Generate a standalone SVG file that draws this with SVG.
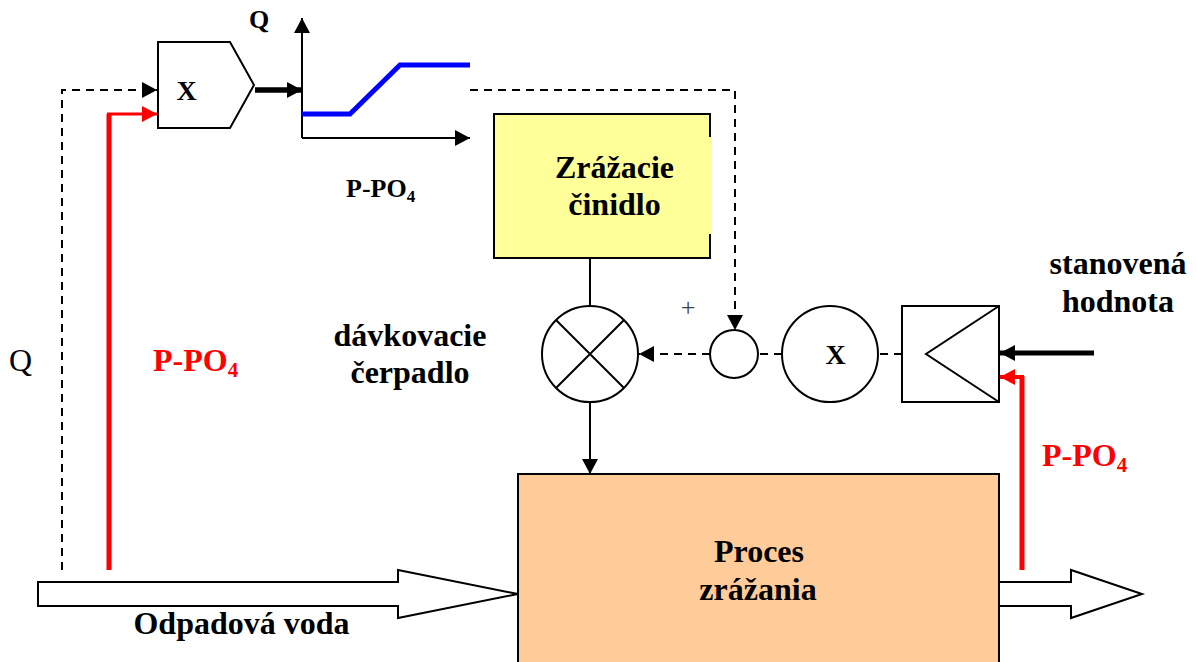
<svg xmlns="http://www.w3.org/2000/svg" width="1196" height="662" viewBox="0 0 1196 662">
<style>
text{font-family:"Liberation Serif",serif;font-weight:bold;fill:#000}
.t{font-size:32px}
.r{fill:#f00}
.s{fill:none;stroke:#000;stroke-width:2}
.d{fill:none;stroke:#000;stroke-width:2;stroke-dasharray:8 6}
</style>
<defs>
<marker id="a" markerUnits="userSpaceOnUse" markerWidth="15" markerHeight="16" refX="15" refY="8" orient="auto"><path d="M0 0L15 8L0 16Z" fill="#000"/></marker>
<marker id="b" markerUnits="userSpaceOnUse" markerWidth="15" markerHeight="16" refX="15" refY="8" orient="auto"><path d="M0 0L15 8L0 16Z" fill="#f00"/></marker>
</defs>
<rect width="1196" height="662" fill="#fff"/>
<g id="outflow"><path d="M999 582H1071V570L1142 594L1071 618V606H999" fill="#fff" stroke="#000" stroke-width="2"/></g>
<g id="connectors">
<path class="d" d="M62 570V90H157" marker-end="url(#a)"/>
<path d="M109 570V114" fill="none" stroke="#f00" stroke-width="5"/>
<path d="M107 114H157" fill="none" stroke="#f00" stroke-width="3" marker-end="url(#b)"/>
<path d="M255 90H302" fill="none" stroke="#000" stroke-width="5.5" marker-end="url(#a)"/>
<path class="s" d="M302 138V18" marker-end="url(#a)"/>
<path class="s" d="M302 138H470" marker-end="url(#a)"/>
<path d="M302 114H350L400 65H470" fill="none" stroke="#00f" stroke-width="5"/>
<path class="d" d="M470 90H735V330" marker-end="url(#a)"/>
<path class="s" d="M590 258V306"/>
<path class="s" d="M590 402V474" marker-end="url(#a)"/>
<path class="d" d="M710 354H639" marker-end="url(#a)"/>
<path class="d" d="M782 354H758"/>
<path class="d" d="M902 354H878"/>
<path d="M1094 353H1000" fill="none" stroke="#000" stroke-width="5" marker-end="url(#a)"/>
<path d="M1022 570V376" fill="none" stroke="#f00" stroke-width="5"/>
<path d="M1024 377H1000" fill="none" stroke="#f00" stroke-width="4" marker-end="url(#b)"/>
</g>
<g id="multiplier-top"><path d="M158 42H230L254 85L230 128H158Z" fill="#fff" stroke="#000" stroke-width="2"/><text x="186.500" y="100" font-size="28" text-anchor="middle">X</text></g>
<g id="graph-labels"><text x="259" y="28" font-size="26" text-anchor="middle">Q</text><text x="346" y="197" font-size="26">P-PO<tspan font-size="17" dy="5">4</tspan></text></g>
<g id="zrazacie"><rect x="494" y="114" width="216" height="144" fill="#ffff99" stroke="#000" stroke-width="2"/><rect x="709" y="137" width="3" height="97" fill="#ffff99"/><text class="t" x="614.500" y="178" text-anchor="middle">Zrážacie</text><text class="t" x="614.500" y="215" text-anchor="middle">činidlo</text></g>
<g id="pump"><circle cx="590" cy="354" r="48" fill="#fff" stroke="#000" stroke-width="2"/><path class="s" d="M556 320L624 388M624 320L556 388"/></g>
<g id="pump-label"><text class="t" x="410" y="346" text-anchor="middle">dávkovacie</text><text class="t" x="410" y="383" text-anchor="middle">čerpadlo</text></g>
<g id="sum"><circle cx="734" cy="354" r="24" fill="#fff" stroke="#000" stroke-width="2"/><text x="688" y="316" font-size="26" text-anchor="middle" style="font-weight:normal;fill:#444">+</text></g>
<g id="multiplier"><circle cx="830" cy="354" r="48" fill="#fff" stroke="#000" stroke-width="2"/><text x="835.500" y="364" font-size="28" text-anchor="middle">X</text></g>
<g id="controller"><rect x="902" y="306" width="97" height="96" fill="#fff" stroke="#000" stroke-width="2"/><path class="s" d="M999 306L926 354L999 402"/></g>
<g id="setpoint"><text class="t" x="1118" y="274" text-anchor="middle">stanovená</text><text class="t" x="1118" y="312" text-anchor="middle">hodnota</text></g>
<g id="q-label"><text x="20.500" y="371" font-size="32" text-anchor="middle" style="font-weight:normal">Q</text></g>
<g id="ppo4-left"><text class="t r" x="153" y="371">P-PO<tspan font-size="21" dy="6" class="r">4</tspan></text></g>
<g id="ppo4-right"><text class="t r" x="1042" y="466">P-PO<tspan font-size="21" dy="6" class="r">4</tspan></text></g>
<g id="proces"><rect x="518" y="474" width="481" height="190" fill="#ffcc99" stroke="#000" stroke-width="2"/><text class="t" x="759" y="562" text-anchor="middle">Proces</text><text class="t" x="758" y="600" text-anchor="middle">zrážania</text></g>
<g id="inflow"><path d="M38 582H398V570L518 594L398 618V606H38Z" fill="#fff" stroke="#000" stroke-width="2"/><text class="t" x="241.500" y="634" text-anchor="middle">Odpadová voda</text></g>
</svg>
